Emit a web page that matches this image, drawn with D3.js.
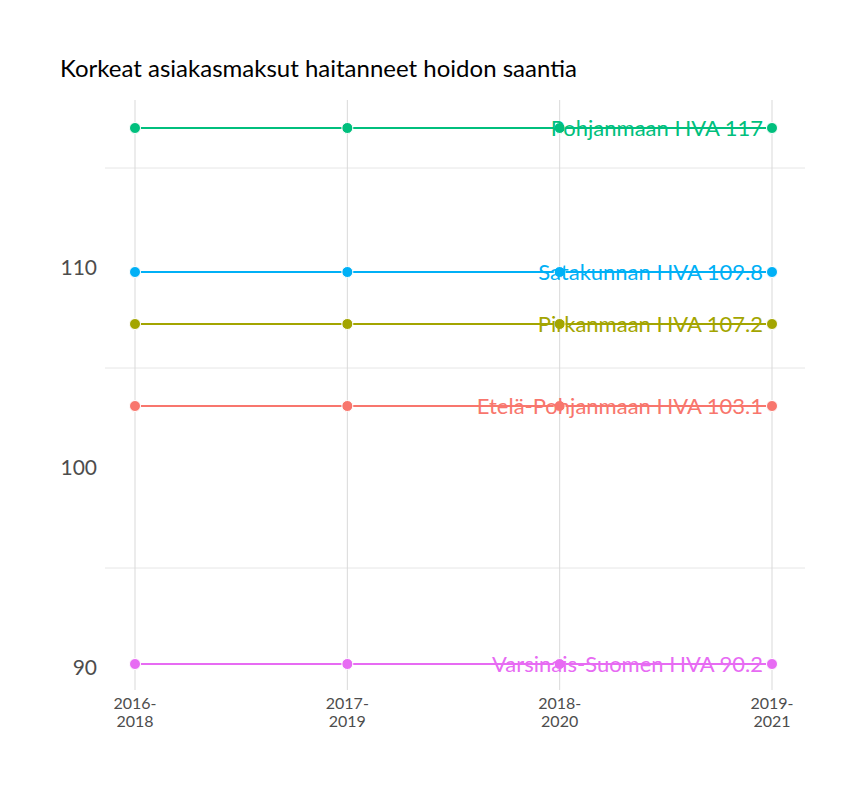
<!DOCTYPE html>
<html><head><meta charset="utf-8">
<script src="https://cdn.jsdelivr.net/npm/d3@7"></script>
<style>body{margin:0;background:#fff;font-family:Lato,sans-serif}</style>
</head><body>
<svg id="c" width="864" height="792"></svg>
<script>
const periods = ['2016-\n2018', '2017-\n2019', '2018-\n2020', '2019-\n2021'];
const regions = ['Pohjanmaan HVA', 'Satakunnan HVA', 'Pirkanmaan HVA', 'Etelä-Pohjanmaan HVA', 'Varsinais-Suomen HVA'];
const values = [117, 109.8, 107.2, 103.1, 90.2];
const colors = ['#00BF7D', '#00B0F6', '#A3A500', '#F8766D', '#E76BF3'];
const yTicks = [90, 100, 110];
const yGrid = [95, 105, 115];

const svg = d3.select('#c');
const x = d3.scalePoint().domain(periods).range([135, 772]);
const y = d3.scaleLinear().domain([88.9, 118.4]).range([690, 100]);

// Gridlines
svg.selectAll('.gy').data(yGrid).enter().append('line')
  .attr('x1', 105).attr('x2', 805).attr('y1', d => y(d)).attr('y2', d => y(d))
  .attr('stroke', '#e0e0e0').attr('stroke-width', 0.8);
svg.selectAll('.gx').data(periods).enter().append('line')
  .attr('x1', d => x(d)).attr('x2', d => x(d)).attr('y1', 100).attr('y2', 690)
  .attr('stroke', '#d9d9d9').attr('stroke-width', 1);

// Y axis labels
svg.selectAll('.yt').data(yTicks).enter().append('text')
  .attr('x', 97).attr('y', d => y(d)).attr('dy', '0.35em')
  .attr('text-anchor', 'end').attr('font-size', 21).attr('fill', '#4d4d4d')
  .text(d => d);

// X axis labels
const xt = svg.selectAll('.xt').data(periods).enter().append('text')
  .attr('text-anchor', 'middle').attr('font-size', 16).attr('fill', '#4d4d4d');
xt.each(function (d) {
  d.split('\n').forEach((s, i) => {
    d3.select(this).append('tspan').attr('x', x(d)).attr('y', 709 + i * 18).text(s);
  });
});

// Lines, points and labels
regions.forEach((r, i) => {
  const pts = periods.map(p => ({ p, v: values[i] }));
  svg.append('path')
    .attr('d', d3.line().x(d => x(d.p)).y(d => y(d.v))(pts))
    .attr('stroke', colors[i]).attr('stroke-width', 2).attr('fill', 'none');
  svg.selectAll(null).data(pts).enter().append('circle')
    .attr('cx', d => x(d.p)).attr('cy', d => y(d.v)).attr('r', 5.5)
    .attr('fill', colors[i]).attr('stroke', '#fff').attr('stroke-width', 1);
  svg.append('text')
    .attr('x', 763).attr('y', y(values[i])).attr('dy', '0.35em')
    .attr('text-anchor', 'end').attr('font-size', 22).attr('fill', colors[i])
    .text(`${r} ${values[i]}`);
});

// Title
svg.append('text').attr('x', 60).attr('y', 77).attr('font-size', 24).attr('fill', '#000')
  .text('Korkeat asiakasmaksut haitanneet hoidon saantia');
</script>
</body></html>
